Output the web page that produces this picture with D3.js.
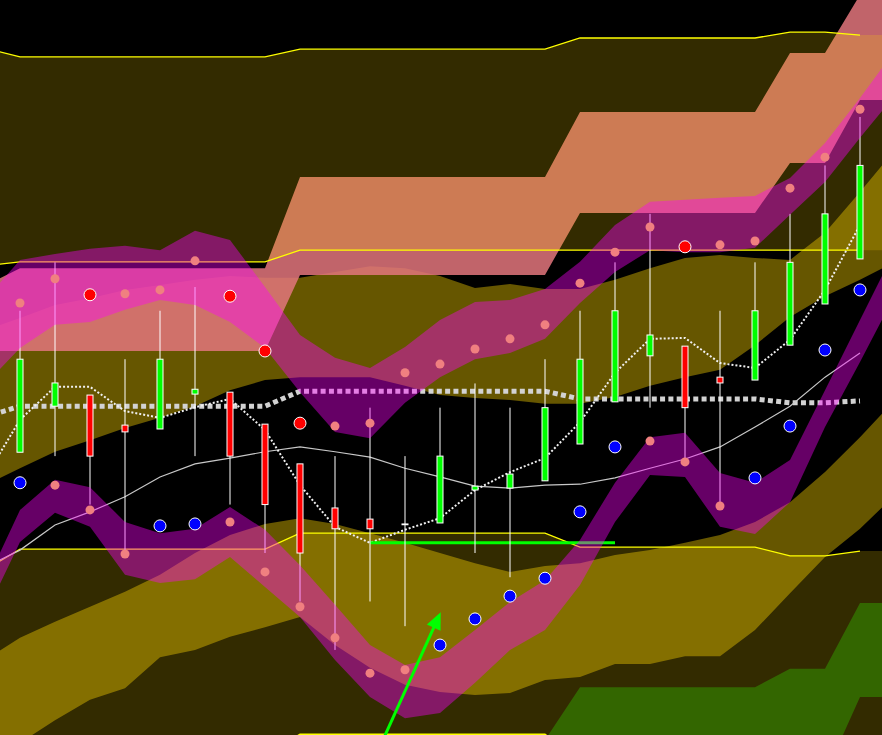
<!DOCTYPE html>
<html>
<head>
<meta charset="utf-8">
<script src="https://cdn.jsdelivr.net/npm/d3@7"></script>
<style>html,body{margin:0;padding:0;background:#000;overflow:hidden}</style>
</head>
<body>
<svg id="chart" width="882" height="735"></svg>
<script>
// ---------- DATA ----------
// band / line periods (one period before and after the candles)
const periods = [-1,0,1,2,3,4,5,6,7,8,9,10,11,12,13,14,15,16,17,18,19,20,21,22,23,24,25];
// candle periods
const candleIdx = [0,1,2,3,4,5,6,7,8,9,10,11,12,13,14,15,16,17,18,19,20,21,22,23,24];

const candleOpen  = [102.08,103.03,103.26,102.64,102.56,103.28,103.32,102.66,101.84,100.93,100.70,100.60,100.62,101.30,101.34,101.49,102.25,103.12,104.07,104.27,103.63,103.57,104.29,105.14,106.07];
const candleHigh  = [105.00,106.00,103.26,104.00,105.00,105.49,103.32,102.66,101.84,102.00,103.00,102.00,103.00,103.50,103.00,104.00,105.00,106.00,107.00,104.27,105.00,106.00,107.00,108.00,109.00];
const candleLow   = [102.08,102.00,101.00,100.00,102.56,102.00,101.00,100.00,99.00,98.00,99.00,98.49,100.62,100.00,99.50,101.49,102.25,103.12,103.00,101.88,101.00,103.57,104.29,105.14,106.07];
const candleClose = [104.00,103.51,102.00,102.50,104.00,103.38,102.00,101.00,100.00,100.50,100.50,100.60,102.00,101.38,101.63,103.00,104.00,105.00,104.50,103.00,103.51,105.00,106.00,107.00,108.00];

// dot markers above / below
const upperMarks = [105.16,105.66,105.33,105.35,105.43,106.03,105.30,104.17,102.68,102.62,102.68,103.72,103.90,104.21,104.42,104.71,105.57,106.21,106.73,106.32,106.36,106.44,107.53,108.17,109.16];
const lowerMarks = [101.45,101.40,100.89,99.98,100.56,100.60,100.64,99.61,98.89,98.25,97.52,97.59,98.10,98.64,99.11,99.48,100.85,102.19,102.31,101.88,100.97,101.55,102.62,104.19,105.43];
const sellSignals = [2,6,7,8,19];
const buySignals  = [0,4,5,12,13,14,15,16,17,21,22,23,24];

// channel lines (lines stop at the last candle, zones run to the edge)
const outerUpper = [110.42,110.24,110.24,110.24,110.24,110.24,110.24,110.24,110.24,110.40,110.40,110.40,110.40,110.40,110.40,110.40,110.40,110.63,110.63,110.63,110.63,110.63,110.63,110.75,110.75,110.69,110.69];
const innerUpper = [105.93,106.01,106.01,106.01,106.01,106.01,106.01,106.01,106.01,106.25,106.25,106.25,106.25,106.25,106.25,106.25,106.25,106.25,106.25,106.25,106.25,106.25,106.25,106.25,106.25,106.25,106.25];
const innerLower = [99.65,100.08,100.08,100.08,100.08,100.08,100.08,100.08,100.08,100.41,100.41,100.41,100.41,100.41,100.41,100.41,100.41,100.12,100.12,100.12,100.12,100.12,100.12,99.94,99.94,100.04,100.04];
const outerLower = [95.19,95.85,95.85,95.85,95.85,95.85,95.85,95.85,95.85,96.26,96.26,96.26,96.26,96.26,96.26,96.26,96.26,95.73,95.73,95.73,95.73,95.73,95.73,95.44,95.44,95.58,95.58];
const midLine    = [102.81,103.03,103.03,103.03,103.03,103.03,103.03,103.03,103.03,103.34,103.34,103.34,103.34,103.34,103.34,103.34,103.34,103.18,103.18,103.18,103.18,103.18,103.18,103.10,103.10,103.14,null];

const slowLine = [99.71,100.06,100.58,100.85,101.16,101.57,101.84,101.96,102.09,102.19,102.09,101.98,101.75,101.57,101.38,101.34,101.40,101.42,101.55,101.75,101.94,102.19,102.60,103.03,103.63,104.13,null];
const fastLine = [101.55,102.75,103.43,103.43,102.93,102.79,103.01,103.18,102.54,101.40,100.54,100.21,100.48,100.72,101.30,101.67,101.96,102.70,103.72,104.42,104.44,103.92,103.82,104.40,105.43,106.77,null];

// clouds
const cloudTop    = [105.51,105.88,105.88,105.88,105.88,105.88,105.88,105.88,105.88,107.76,107.76,107.76,107.76,107.76,107.76,107.76,107.76,109.10,109.10,109.10,109.10,109.10,109.10,110.32,110.32,111.52,111.52];
const cloudBottom = [104.17,104.17,104.17,104.17,104.17,104.17,104.17,104.17,104.17,105.74,105.74,105.74,105.74,105.74,105.74,105.74,105.74,107.02,107.02,107.02,107.02,107.02,107.02,108.05,108.05,109.35,109.35];
const greenTop    = [null,null,null,null,null,null,null,null,null,null,null,null,null,null,null,94.90,96.14,97.23,97.23,97.23,97.23,97.23,97.23,97.61,97.61,98.97,98.97];
const greenBottom = [null,null,null,null,null,null,null,null,null,null,null,null,null,null,null,94.90,94.90,94.90,94.90,94.90,94.90,94.90,94.90,94.90,95.42,97.03,97.03];

// olive envelopes
const upperEnvTop    = [104.60,104.85,105.12,105.26,105.43,105.53,105.64,105.72,105.68,105.68,105.80,105.92,105.88,105.72,105.47,105.55,105.45,105.45,105.64,105.88,106.09,106.15,106.09,106.05,106.61,107.45,108.32];
const upperEnvBottom = [101.40,101.75,102.09,102.33,102.58,102.79,103.03,103.36,103.57,103.63,103.63,103.63,103.45,103.26,103.20,103.16,103.08,103.08,103.22,103.45,103.63,103.78,104.29,104.87,105.30,105.64,106.01];
const lowerEnvTop    = [97.79,98.25,98.58,98.89,99.20,99.55,100.00,100.37,100.60,100.72,100.60,100.41,100.21,100.00,99.79,99.61,99.73,99.79,99.96,100.06,100.21,100.37,100.64,101.05,101.67,102.39,103.16];
const lowerEnvBottom = [95.52,96.08,96.55,96.97,97.21,97.85,98.00,98.27,98.47,98.68,98.10,97.63,97.28,97.13,97.07,97.11,97.38,97.44,97.71,97.71,97.87,97.87,98.41,99.17,99.92,100.50,101.20];

// magenta bands
const upperBandTop    = [105.22,106.05,106.17,106.28,106.34,106.25,106.65,106.46,105.49,104.50,104.03,103.82,104.25,104.81,105.18,105.22,105.45,106.01,106.77,107.25,107.29,107.33,107.37,107.74,108.46,109.39,110.38];
const upperBandBottom = [103.47,104.23,104.71,104.77,105.02,105.22,105.12,104.77,104.23,103.32,102.50,102.37,103.10,103.63,104.00,104.13,104.42,105.16,105.80,106.25,106.21,106.21,106.30,106.98,107.66,108.57,109.45];
const lowerBandTop    = [99.34,100.89,101.51,101.36,100.64,100.41,100.50,100.95,100.48,99.75,98.93,98.10,97.69,97.85,98.41,98.99,99.44,100.27,101.45,102.39,102.48,101.65,101.45,101.92,103.36,104.81,106.25];
const lowerBandBottom = [98.72,100.23,100.83,100.54,99.55,99.38,99.46,99.92,99.30,98.68,97.79,97.03,96.59,96.70,97.32,98.00,98.41,99.34,100.64,101.61,101.57,100.54,100.39,101.05,102.60,103.94,105.33];

// annotations
const supportLevel = 100.21, supportFrom = 10, supportTo = 17;
const arrowFrom = [10.3, 96.03], arrowTo = [12.02, 98.78];

// ---------- DRAWING ----------
const W = 882, H = 735;
const lastCandle = candleIdx[candleIdx.length - 1];
const svg = d3.select('#chart');
const x = d3.scaleLinear().domain([0, 24]).range([20, 860]);
const y = d3.scaleLinear().domain([96.244, 111.414]).range([H, 0]);

svg.append('rect').attr('width', W).attr('height', H).attr('fill', '#000');

function band(top, bottom, fill, op) {
  const data = periods.map((p, i) => ({p, t: top[i], b: bottom[i]}));
  const area = d3.area()
    .defined(d => d.t != null && d.b != null)
    .x(d => x(d.p)).y0(d => y(d.b)).y1(d => y(d.t));
  svg.append('path').datum(data).attr('d', area)
    .attr('fill', fill).attr('fill-opacity', op);
}
function line(vals, stroke, width, dash) {
  const data = periods.map((p, i) => ({p, v: vals[i]}));
  const ln = d3.line().defined(d => d.v != null && d.p <= lastCandle)
    .x(d => x(d.p)).y(d => y(d.v));
  const path = svg.append('path').datum(data).attr('d', ln)
    .attr('fill', 'none').attr('stroke', stroke).attr('stroke-width', width);
  if (dash) path.attr('stroke-dasharray', dash);
  return path;
}

const GOLD = 'rgb(255,215,0)';
// olive envelopes
band(upperEnvTop, upperEnvBottom, GOLD, 0.4);
band(lowerEnvTop, lowerEnvBottom, GOLD, 0.4);
// clouds
band(cloudTop, cloudBottom, 'rgb(227,118,124)', 0.85);
band(greenTop, greenBottom, 'rgb(0,87,0)', 0.85);
// channel zones
band(outerUpper, innerUpper, GOLD, 0.2);
band(innerLower, outerLower, GOLD, 0.2);
// channel lines
[outerUpper, innerUpper, innerLower, outerLower].forEach(v => line(v, '#ffff00', 1.3));
// mid, slow, fast lines
line(midLine, '#d2d2d2', 5, '5 3.3');
line(slowLine, '#c8c8c8', 1.2);
line(fastLine, '#f0f0f0', 2, '2 2');
// support line
svg.append('line')
  .attr('x1', x(supportFrom)).attr('x2', x(supportTo))
  .attr('y1', y(supportLevel)).attr('y2', y(supportLevel))
  .attr('stroke', '#00ff00').attr('stroke-width', 3);

// candles
const cg = svg.append('g');
candleIdx.forEach((k, i) => {
  const o = candleOpen[i], c = candleClose[i];
  cg.append('line').attr('x1', x(k)).attr('x2', x(k))
    .attr('y1', y(candleHigh[i])).attr('y2', y(candleLow[i]))
    .attr('stroke', '#fff').attr('stroke-width', 1);
  const top = y(Math.max(o, c)), bot = y(Math.min(o, c));
  const col = c > o ? '#00ff00' : (c < o ? '#ff0000' : '#ffffff');
  cg.append('rect').attr('x', x(k) - 3).attr('width', 6)
    .attr('y', top).attr('height', Math.max(bot - top, 0.8))
    .attr('fill', col).attr('stroke', '#fff').attr('stroke-width', 1);
});

// magenta bands
band(upperBandTop, upperBandBottom, '#ff00ff', 0.4);
band(lowerBandTop, lowerBandBottom, '#ff00ff', 0.4);

// markers
function marker(k, v, kind) {
  const c = svg.append('circle').attr('cx', x(k)).attr('cy', y(v));
  if (kind === 'sell') c.attr('r', 6).attr('fill', '#ff0000').attr('stroke', '#fff').attr('stroke-width', 1);
  else if (kind === 'buy') c.attr('r', 6).attr('fill', '#0000ff').attr('stroke', '#fff').attr('stroke-width', 1);
  else c.attr('r', 4.5).attr('fill', '#f08080');
}
candleIdx.forEach((k, i) => {
  marker(k, upperMarks[i], sellSignals.includes(k) ? 'sell' : 'plain');
  marker(k, lowerMarks[i], buySignals.includes(k) ? 'buy' : 'plain');
});

// arrow
const ax0 = x(arrowFrom[0]), ay0 = y(arrowFrom[1]), ax1 = x(arrowTo[0]), ay1 = y(arrowTo[1]);
const len = Math.hypot(ax1 - ax0, ay1 - ay0), ux = (ax1 - ax0) / len, uy = (ay1 - ay0) / len;
const headL = 17, headW = 7.5;
const bx = ax1 - ux * headL, by = ay1 - uy * headL;
svg.append('line').attr('x1', ax0).attr('y1', ay0).attr('x2', bx + ux * 2).attr('y2', by + uy * 2)
  .attr('stroke', '#00ff00').attr('stroke-width', 3);
svg.append('path')
  .attr('d', `M${ax1},${ay1}L${bx - uy * headW},${by + ux * headW}L${bx + uy * headW},${by - ux * headW}Z`)
  .attr('fill', '#00ff00');
</script>
</body>
</html>
